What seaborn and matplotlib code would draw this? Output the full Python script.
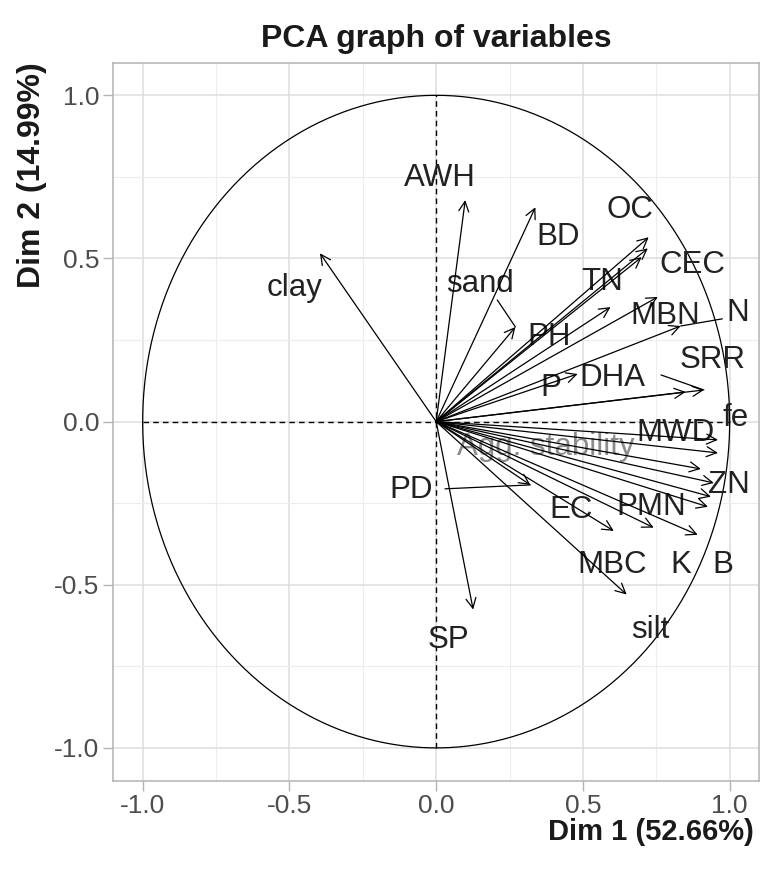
import numpy as np
import pandas as pd
import matplotlib
matplotlib.use("Agg")
import matplotlib.pyplot as plt
import seaborn as sns

# coordenadas de las variables (Dim 1, Dim 2)
variables = ["AWH", "BD", "clay", "sand", "OC", "CEC", "TN", "PH", "MBN", "N",
             "P", "DHA", "SRR", "fe", "MWD", "Agg. stability", "ZN", "B", "PMN",
             "MBC", "EC", "K", "silt", "SP", "PD"]
dim1 = [0.099, 0.338, -0.396, 0.270, 0.724, 0.721, 0.700, 0.594, 0.755, 0.833,
        0.482, 0.912, 0.850, 0.960, 0.960, 0.902, 0.946, 0.936, 0.926,
        0.741, 0.605, 0.891, 0.649, 0.126, 0.321]
dim2 = [0.679, 0.657, 0.516, 0.290, 0.565, 0.531, 0.504, 0.351, 0.382, 0.293,
        0.146, 0.097, 0.091, -0.056, -0.096, -0.145, -0.188, -0.230, -0.261,
        -0.325, -0.335, -0.347, -0.530, -0.576, -0.194]
ticks = [-1.0, -0.5, 0.0, 0.5, 1.0]
tick_labels = ["-1.0", "-0.5", "0.0", "0.5", "1.0"]
eje_x = "Dim 1 (52.66%)"
eje_y = "Dim 2 (14.99%)"

# donde quedaron las etiquetas (tipo ggrepel)
label_pos = {
    "AWH": (0.014, 0.746), "BD": (0.417, 0.565), "clay": (-0.482, 0.409),
    "sand": (0.150, 0.421), "OC": (0.659, 0.648), "CEC": (0.874, 0.480),
    "TN": (0.567, 0.428), "PH": (0.383, 0.260), "MBN": (0.779, 0.324),
    "N": (1.028, 0.333), "P": (0.389, 0.102), "DHA": (0.601, 0.134),
    "SRR": (0.943, 0.189), "fe": (1.021, 0.011), "MWD": (0.816, -0.035),
    "Agg. stability": (0.372, -0.077), "ZN": (0.997, -0.194),
    "PMN": (0.731, -0.261), "EC": (0.458, -0.270), "PD": (-0.085, -0.209),
    "MBC": (0.598, -0.439), "K": (0.833, -0.439), "B": (0.977, -0.439),
    "silt": (0.731, -0.638), "SP": (0.041, -0.668),
}
seg_start = {
    "sand": (0.208, 0.373), "PD": (0.030, -0.206),
    "DHA": (0.766, 0.143), "N": (0.975, 0.315),
}

df = pd.DataFrame({"var": variables, "dim1": dim1, "dim2": dim2})

sns.set_theme(style="whitegrid")
plt.rcParams["font.family"] = ["Liberation Sans", "DejaVu Sans"]

fig = plt.figure(figsize=(7.62, 8.72), dpi=100)
ax = fig.add_axes([0.1487, 0.1049, 0.8474, 0.8232])

theta = np.linspace(0, 2 * np.pi, 400)
circ = pd.DataFrame({"x": np.cos(theta), "y": np.sin(theta)})
sns.lineplot(data=circ, x="x", y="y", sort=False, estimator=None,
             color="black", lw=0.9, ax=ax)
ax.plot([-1, 1], [0, 0], color="black", lw=1.0, ls=(0, (4, 3)))
ax.plot([0, 0], [-1, 1], color="black", lw=1.0, ls=(0, (4, 3)))

for _, row in df.iterrows():
    lx, ly = label_pos[row["var"]]
    color = "#8c8c8c" if row["var"] == "Agg. stability" else "#222222"
    ax.text(lx, ly, row["var"], ha="center", va="center", fontsize=22.5,
            color=color, zorder=3)
    ax.annotate("", xy=(row.dim1, row.dim2), xytext=(0, 0),
                arrowprops=dict(arrowstyle="->,head_length=0.6,head_width=0.3",
                                color="black", lw=0.9, shrinkA=0, shrinkB=0,
                                mutation_scale=12), zorder=4)
    if row["var"] in seg_start:
        sx, sy = seg_start[row["var"]]
        ax.plot([sx, row.dim1], [sy, row.dim2], color="black", lw=0.9)

ax.set_xlim(-1.1, 1.1)
ax.set_ylim(-1.1, 1.1)
ax.set_xticks(ticks)
ax.set_yticks(ticks)
ax.set_xticklabels(tick_labels)
ax.set_yticklabels(tick_labels)
ax.set_xticks([-0.75, -0.25, 0.25, 0.75], minor=True)
ax.set_yticks([-0.75, -0.25, 0.25, 0.75], minor=True)
ax.grid(which="major", color="#DEDEDE", lw=1.1)
ax.grid(which="minor", color="#EDEDED", lw=0.8)
ax.tick_params(which="major", length=7, width=1, color="#B3B3B3",
               labelsize=19, labelcolor="#4D4D4D", pad=3, left=True, bottom=True)
ax.tick_params(which="minor", length=0)
for s in ax.spines.values():
    s.set_color("#B3B3B3")
    s.set_linewidth(1.1)

ax.set_xlabel(eje_x, fontsize=21, fontweight="bold", color="#1a1a1a",
              ha="right", va="center")
ax.xaxis.set_label_coords(0.992, -0.072)
ax.set_ylabel(eje_y, loc="top", fontsize=23, fontweight="bold",
              color="#1a1a1a", labelpad=5)
ax.set_title("PCA graph of variables", fontsize=23, fontweight="bold",
             color="#1a1a1a", pad=11)

fig.savefig("out.png", dpi=100)
